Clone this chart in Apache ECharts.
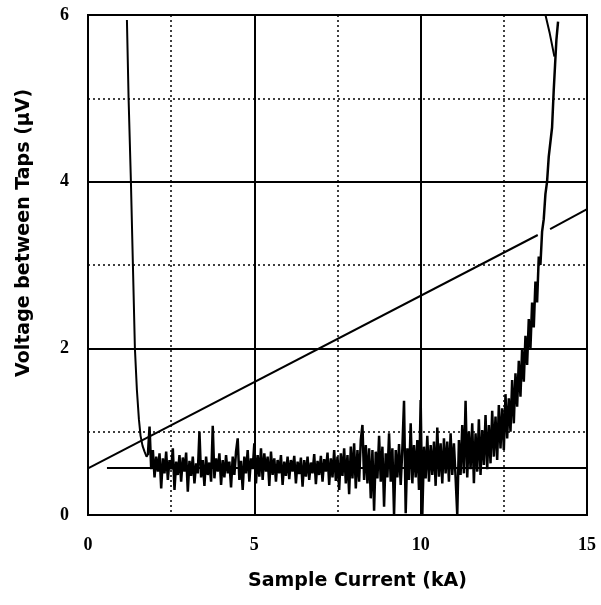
<!DOCTYPE html>
<html>
<head>
<meta charset="utf-8">
<script src="https://cdn.jsdelivr.net/npm/echarts@6/dist/echarts.min.js"></script>
<style>
html,body{margin:0;padding:0;background:#fff;}
#chart{width:601px;height:605px;}
</style>
</head>
<body>
<div id="chart"></div>
<script>
// ---- data (kA, µV) ----
var xTitle = "Sample Current (kA)";
var yTitle = "Voltage between Taps (\u03bcV)";
var xTicks = [0, 5, 10, 15];
var yTicks = [0, 2, 4, 6];

// transition (descent at low current)
var descent = [[1.17,5.94],[1.22,5.0],[1.29,4.0],[1.35,3.0],[1.41,2.0],[1.47,1.5],[1.53,1.15],[1.58,0.95],[1.64,0.83],[1.70,0.76],[1.76,0.70],[1.80,0.72]];

// noisy trace
var noisy = [
[1.80,0.72],[1.85,1.06],[1.90,0.55],[1.95,0.78],[2.00,0.45],[2.05,0.70],[2.10,0.52],[2.15,0.74],[2.20,0.32],[2.25,0.68],
[2.30,0.50],[2.35,0.76],[2.40,0.42],[2.45,0.66],[2.50,0.55],[2.55,0.80],[2.60,0.30],[2.65,0.64],[2.70,0.48],[2.75,0.72],
[2.80,0.40],[2.85,0.69],[2.90,0.52],[2.95,0.75],[3.00,0.28],[3.05,0.65],[3.10,0.47],[3.15,0.70],[3.20,0.38],[3.25,0.62],
[3.30,0.50],[3.35,1.00],[3.40,0.45],[3.45,0.66],[3.50,0.35],[3.55,0.70],[3.60,0.48],[3.65,0.63],[3.70,0.40],[3.75,1.07],
[3.80,0.44],[3.85,0.68],[3.90,0.52],[3.95,0.74],[4.00,0.36],[4.05,0.66],[4.10,0.45],[4.15,0.72],[4.20,0.50],[4.25,0.64],
[4.30,0.33],[4.35,0.70],[4.40,0.48],[4.45,0.76],[4.50,0.92],[4.55,0.42],[4.60,0.65],[4.65,0.30],[4.70,0.70],[4.75,0.50],
[4.80,0.78],[4.85,0.40],[4.90,0.68],[4.95,0.55],[5.00,0.86],[5.05,0.38],[5.10,0.72],[5.15,0.46],[5.20,0.80],[5.25,0.42],
[5.30,0.74],[5.35,0.52],[5.40,0.70],[5.45,0.35],[5.50,0.76],[5.55,0.48],[5.60,0.68],[5.65,0.40],[5.70,0.66],[5.75,0.50],
[5.80,0.72],[5.85,0.36],[5.90,0.64],[5.95,0.47],[6.00,0.70],[6.05,0.43],[6.10,0.66],[6.15,0.52],[6.20,0.71],[6.25,0.38],
[6.30,0.64],[6.35,0.49],[6.40,0.69],[6.45,0.34],[6.50,0.66],[6.55,0.46],[6.60,0.70],[6.65,0.42],[6.70,0.63],[6.75,0.50],
[6.80,0.73],[6.85,0.37],[6.90,0.65],[6.95,0.48],[7.00,0.71],[7.05,0.40],[7.10,0.67],[7.15,0.52],[7.20,0.75],[7.25,0.36],
[7.30,0.68],[7.35,0.45],[7.40,0.78],[7.45,0.41],[7.50,0.70],[7.55,0.30],[7.60,0.74],[7.65,0.47],[7.70,0.80],[7.75,0.38],
[7.80,0.72],[7.85,0.25],[7.90,0.82],[7.95,0.44],[8.00,0.86],[8.05,0.32],[8.10,0.78],[8.15,0.40],[8.20,0.90],[8.25,1.08],
[8.30,0.42],[8.35,0.84],[8.40,0.38],[8.45,0.80],[8.50,0.20],[8.55,0.78],[8.60,0.05],[8.65,0.76],[8.70,0.44],[8.75,0.95],
[8.80,0.40],[8.85,0.82],[8.90,0.10],[8.95,0.74],[9.00,0.45],[9.05,0.98],[9.10,0.40],[9.15,0.80],[9.20,0.00],[9.25,0.78],
[9.30,0.45],[9.35,0.85],[9.40,0.36],[9.45,0.80],[9.50,1.37],[9.55,0.02],[9.60,0.80],[9.65,0.42],[9.70,1.10],[9.75,0.38],
[9.80,0.84],[9.85,0.45],[9.90,0.90],[9.95,0.30],[10.00,1.38],[10.05,0.00],[10.10,0.82],[10.15,0.44],[10.20,0.95],[10.25,0.40],
[10.30,0.84],[10.35,0.48],[10.40,0.88],[10.45,0.35],[10.50,1.05],[10.55,0.46],[10.60,0.86],[10.65,0.38],[10.70,0.92],[10.75,0.50],
[10.80,0.88],[10.85,0.40],[10.90,0.98],[10.95,0.48],[11.00,0.86],[11.05,0.45],[11.10,0.00],[11.15,0.90],[11.20,0.48],[11.25,1.08],
[11.30,0.50],[11.35,1.37],[11.40,0.45],[11.45,1.00],[11.50,0.55],[11.55,1.10],[11.60,0.38],[11.65,0.98],[11.70,0.52],[11.75,1.15],
[11.80,0.48],[11.85,1.02],[11.90,0.60],[11.95,1.20],[12.00,0.55],[12.05,1.08],[12.10,0.62],[12.15,1.25],[12.20,0.70],[12.25,1.18],
[12.30,0.66],[12.35,1.32],[12.40,0.80],[12.45,1.28],[12.50,0.78],[12.55,1.45],[12.60,0.92],[12.65,1.40],[12.70,1.00],[12.75,1.62],
[12.80,1.10],[12.85,1.70],[12.90,1.30],[12.95,1.85],[13.00,1.42],[13.05,2.00],[13.10,1.60],[13.15,2.15],[13.20,1.80],[13.25,2.35],
[13.30,2.00],[13.35,2.55],[13.40,2.25],[13.45,2.80],[13.50,2.55],[13.55,3.10],[13.60,3.00],[13.65,3.40],[13.70,3.55],[13.75,3.85],
[13.80,4.00],[13.85,4.30],[13.95,4.65],[14.00,5.10],[14.04,5.40],[14.08,5.70],[14.13,5.92]
];

// second trace branch at top right
var topBranch = [[13.74,6.02],[13.88,5.78],[14.02,5.50]];

// straight (resistive) line, interrupted where the trace crosses it
var slopeLineA = [[0,0.56],[13.52,3.36]];
var slopeLineB = [[13.89,3.43],[15.18,3.71]];

// horizontal criterion line
var criterionLine = [[0.57,0.565],[15,0.565]];

var chart = echarts.init(document.getElementById('chart'), null, {renderer:'canvas'});
var tickFont = {color:'#000', fontFamily:'Liberation Serif', fontWeight:'bold', fontSize:18};
var lineStyleBlack = function(w){ return {color:'#000', width:w}; };

chart.setOption({
  backgroundColor:'#fff',
  animation:false,
  grid:{left:88, right:14, top:15, bottom:90, show:true, borderColor:'#000', borderWidth:2, backgroundColor:'transparent'},
  xAxis:{
    type:'value', min:xTicks[0], max:xTicks[xTicks.length-1], interval:5,
    axisLine:{show:true, onZero:false, lineStyle:lineStyleBlack(2)},
    axisTick:{show:false},
    axisLabel:Object.assign({margin:21}, tickFont),
    splitLine:{show:true, lineStyle:{color:'#000', width:2}},
    minorTick:{show:false, splitNumber:2},
    minorSplitLine:{show:true, lineStyle:{color:'#000', width:1.5, type:[2,3]}}
  },
  yAxis:{
    type:'value', min:yTicks[0], max:yTicks[yTicks.length-1], interval:2,
    axisLine:{show:true, onZero:false, lineStyle:lineStyleBlack(2)},
    axisTick:{show:false},
    axisLabel:Object.assign({margin:19}, tickFont),
    splitLine:{show:true, lineStyle:{color:'#000', width:2}},
    minorTick:{show:false, splitNumber:2},
    minorSplitLine:{show:true, lineStyle:{color:'#000', width:1.5, type:[2,3]}}
  },
  graphic:[
    {type:'text', left:248, top:572, style:{text:xTitle, fill:'#000', font:'bold 19px "DejaVu Sans"'}},
    {type:'text', x:15, y:377, rotation:Math.PI/2, style:{text:yTitle, fill:'#000', font:'bold 19px "DejaVu Sans"', textVerticalAlign:'top'}}
  ],
  series:[
    {type:'line', data:criterionLine, showSymbol:false, lineStyle:lineStyleBlack(2), z:2},
    {type:'line', data:slopeLineA, showSymbol:false, lineStyle:lineStyleBlack(2), z:2},
    {type:'line', data:slopeLineB, showSymbol:false, lineStyle:lineStyleBlack(2), z:2, clip:false},
    {type:'line', data:descent, showSymbol:false, lineStyle:lineStyleBlack(2), z:3},
    {type:'line', data:noisy, showSymbol:false, lineStyle:lineStyleBlack(2.5), z:3},
    {type:'line', data:topBranch, showSymbol:false, lineStyle:lineStyleBlack(2), z:3}
  ]
});
</script>
</body>
</html>
